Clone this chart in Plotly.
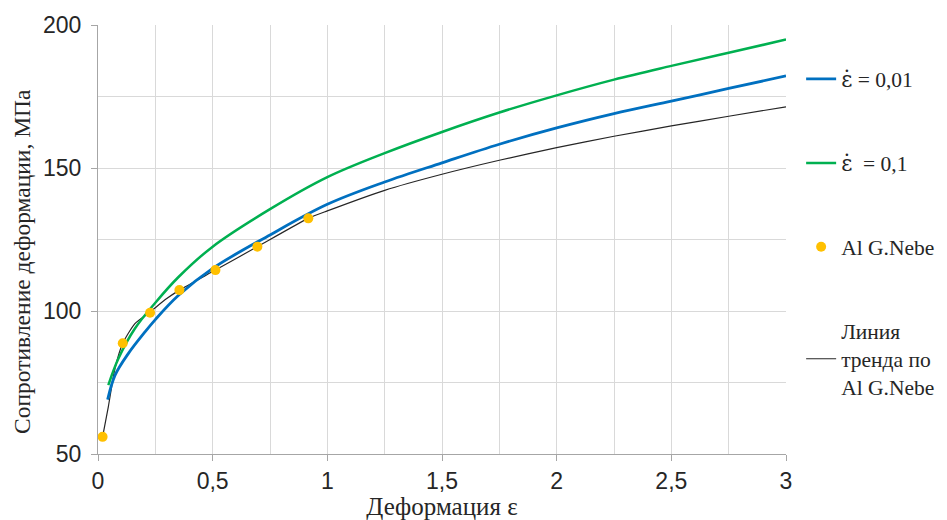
import plotly.graph_objects as go

# Data
blue_x = [0.042, 0.074, 0.132, 0.205, 0.25, 0.35, 0.5, 0.75, 1.0, 1.25, 1.5, 1.75, 2.0, 2.25, 2.5, 2.75, 3.0]
blue_y = [69.0, 77.5, 85.1, 92.7, 97.0, 105.4, 114.9, 126.6, 137.3, 145.1, 151.8, 158.3, 164.0, 169.0, 173.4, 177.8, 182.2]

green_x = [0.045, 0.089, 0.161, 0.25, 0.35, 0.5, 0.75, 1.0, 1.25, 1.5, 1.75, 2.0, 2.25, 2.5, 2.75, 3.0]
green_y = [74.1, 83.4, 93.9, 102.9, 111.8, 122.5, 135.6, 146.8, 155.2, 162.6, 169.4, 175.4, 180.9, 185.7, 190.3, 194.9]

nebe_x = [0.02, 0.108, 0.227, 0.355, 0.512, 0.695, 0.917]
nebe_y = [56.0, 88.7, 99.4, 107.3, 114.3, 122.5, 132.4]

trend_x = [0.02, 0.045, 0.074, 0.108, 0.161, 0.227, 0.292, 0.355, 0.512, 0.695, 0.917, 1.0, 1.25, 1.5, 1.75, 2.0, 2.25, 2.5, 2.75, 3.0]
trend_y = [56.0, 66.5, 79.9, 88.7, 95.6, 99.6, 103.9, 107.3, 114.3, 122.5, 132.4, 135.0, 142.2, 147.8, 152.7, 157.1, 161.1, 164.7, 168.1, 171.4]

x_title = "Деформация ε"
y_title = "Сопротивление деформации, МПа"

eps_dot = '<span style="font-family:DejaVu Serif">\u03b5\u0307</span>'
name_blue = eps_dot + " = 0,01"
name_green = eps_dot + "  = 0,1"
name_nebe = "Al G.Nebe"
name_trend = "Линия<br>тренда по<br>Al G.Nebe"

fig = go.Figure()
fig.add_trace(go.Scatter(x=trend_x, y=trend_y, mode="lines", name=name_trend,
                         line=dict(color="#262626", width=1.2, shape="spline", smoothing=0.6),
                         legendgroup="d", legendrank=4))
fig.add_trace(go.Scatter(x=blue_x, y=blue_y, mode="lines", name=name_blue,
                         line=dict(color="#0070C0", width=2.8, shape="spline", smoothing=1.0),
                         legendgroup="a", legendrank=1))
fig.add_trace(go.Scatter(x=green_x, y=green_y, mode="lines", name=name_green,
                         line=dict(color="#00B050", width=2.5, shape="spline", smoothing=1.0),
                         legendgroup="b", legendrank=2))
fig.add_trace(go.Scatter(x=nebe_x, y=nebe_y, mode="markers", name=name_nebe,
                         marker=dict(color="#FFC000", size=10),
                         legendgroup="c", legendrank=3))

axis_common = dict(
    showline=True, linecolor="#a6a6a6", linewidth=1,
    showgrid=True, gridcolor="#d9d9d9", gridwidth=1,
    zeroline=False, automargin=False,
    ticks="outside", ticklen=6, tickcolor="#a6a6a6",
    tickfont=dict(family="Liberation Sans, Arial", size=23, color="#262626"),
)

fig.update_xaxes(range=[0, 3], dtick=0.5, tickformat=".1~f",
                 minor=dict(dtick=0.25, showgrid=True, gridcolor="#d9d9d9", ticks=""),
                 title=dict(text=x_title, font=dict(family="Liberation Serif, Times New Roman", size=25, color="#262626"), standoff=7),
                 **axis_common)
fig.update_yaxes(range=[50, 200], dtick=50, ticklabelstandoff=5,
                 minor=dict(dtick=25, showgrid=True, gridcolor="#d9d9d9", ticks=""),
                 **axis_common)

fig.add_annotation(text=y_title, xref="paper", yref="paper", x=-0.1105, y=0.45,
                   xanchor="center", yanchor="middle", textangle=-90, showarrow=False,
                   font=dict(family="Liberation Serif, Times New Roman", size=23.5, color="#262626"))

fig.update_layout(
    width=939, height=512,
    margin=dict(l=90, r=161, t=17, b=66, autoexpand=False),
    plot_bgcolor="white", paper_bgcolor="white",
    separators=", ",
    legend=dict(x=1.022, xanchor="left", y=0.922, yanchor="top",
                font=dict(family="Liberation Serif, Times New Roman", size=21.5, color="#262626"),
                tracegroupgap=53, itemwidth=30, bgcolor="rgba(0,0,0,0)"),
    showlegend=True,
)

fig.write_html("out.html")
